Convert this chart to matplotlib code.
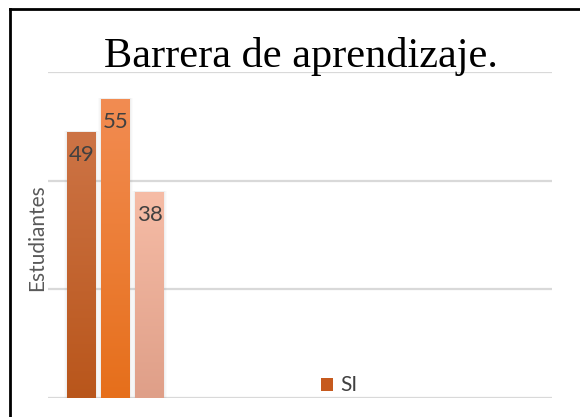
import numpy as np
import matplotlib.pyplot as plt
from matplotlib.colors import LinearSegmentedColormap
from matplotlib.lines import Line2D
from matplotlib.patches import Rectangle

# data
series_name = "SI"
values = [49, 55, 38]
top_colors = ["#cd7446", "#f28c52", "#f6bca6"]
bottom_colors = ["#b9561b", "#e66f1b", "#df9f88"]

W, H = 580, 417
fig = plt.figure(figsize=(W / 100, H / 100), dpi=100)

# axes placed in pixel terms
ax = fig.add_axes([48 / W, (H - 398) / H, 504 / W, 326 / H])
ax.set_xlim(0, 504)
ax.set_ylim(0, 60)
ax.set_yticks([0, 20, 40, 60])
ax.set_xticks([])
ax.tick_params(left=False, labelleft=False)
for s in ax.spines.values():
    s.set_visible(False)
ax.grid(axis="y", color="#d9d9d9", linewidth=1.6)
ax.set_axisbelow(True)

bar_w = 29
start = 19
gap = 5
for i, v in enumerate(values):
    x0 = start + i * (bar_w + gap)
    # soft shadow
    for k, a in enumerate([0.03, 0.04, 0.05]):
        pad = 3 - k
        ax.add_patch(Rectangle((x0 - pad, 0), bar_w + 2 * pad, v + 0.15,
                               facecolor="#808080", alpha=a, edgecolor="none", zorder=2))
    rect = Rectangle((x0, 0), bar_w, v, facecolor="none", edgecolor="none", zorder=3)
    ax.add_patch(rect)
    cmap = LinearSegmentedColormap.from_list("g%d" % i, [bottom_colors[i], top_colors[i]])
    grad = np.linspace(0, 1, 256).reshape(-1, 1)
    im = ax.imshow(grad, cmap=cmap, origin="lower", aspect="auto",
                   extent=(x0, x0 + bar_w, 0, v), zorder=3)
    im.set_clip_path(rect)
    ax.text(x0 + bar_w / 2 + 0.5, v - 2.4, str(v), ha="center", va="top",
            fontsize=16, color="#404040", family="Lato", zorder=4)

ax.set_xlim(0, 504)
ax.set_ylim(0, 60)

fig.text(37 / W, 1 - 238 / H, "Estudiantes", rotation=90, ha="center", va="center",
         fontsize=15, color="#595959", family="Lato")

fig.text(301 / W, 1 - 57 / H, "Barrera de aprendizaje.", ha="center", va="center",
         fontsize=30.5, color="black", family="Liberation Serif")

# legend
fig.patches.append(Rectangle((321 / W, 1 - 391 / H), 12 / W, 13 / H,
                             transform=fig.transFigure, facecolor="#c65a1e",
                             edgecolor="none"))
fig.text(340 / W, 1 - 385 / H, series_name, ha="left", va="center",
         fontsize=15, color="#404040", family="Lato")

# frame border
fig.add_artist(Line2D([10 / W, 10 / W], [0, 1 - 9 / H], color="black", linewidth=2,
                      transform=fig.transFigure))
fig.add_artist(Line2D([10 / W, 1], [1 - 9 / H, 1 - 9 / H], color="black", linewidth=2,
                      transform=fig.transFigure))

fig.savefig("out.png", dpi=100)
